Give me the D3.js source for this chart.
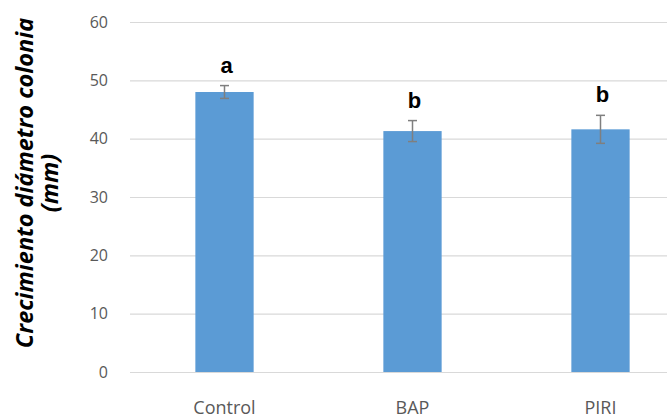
<!DOCTYPE html>
<html>
<head>
<meta charset="utf-8">
<script src="https://cdn.jsdelivr.net/npm/d3@7"></script>
<style>
  html, body { margin: 0; padding: 0; background: #fff; }
  svg { display: block; }
</style>
</head>
<body>
<div id="chart"></div>
<script>
// datos
const categories = ["Control", "BAP", "PIRI"];
const means = [48.0, 41.3, 41.6];
const errors = [1.1, 1.8, 2.4];
const letters = ["a", "b", "b"];
const yTicks = [0, 10, 20, 30, 40, 50, 60];

const W = 667, H = 418;

const svg = d3.select("#chart").append("svg")
    .attr("width", W)
    .attr("height", H);

const x = d3.scaleBand()
    .domain(categories)
    .range([130.5, 694.5])
    .paddingInner(0.69)
    .paddingOuter(0.345);

const y = d3.scaleLinear()
    .domain([0, 60])
    .range([372, 22]);

// líneas de cuadrícula
svg.append("g")
    .selectAll("line")
    .data(yTicks)
    .enter().append("line")
    .attr("x1", 130)
    .attr("x2", W)
    .attr("y1", d => y(d) + 0.5)
    .attr("y2", d => y(d) + 0.5)
    .attr("stroke", "#d9d9d9")
    .attr("stroke-width", 1.2);

// etiquetas eje Y
svg.append("g")
    .selectAll("text")
    .data(yTicks)
    .enter().append("text")
    .attr("x", 108)
    .attr("y", d => y(d))
    .attr("dy", "0.35em")
    .attr("text-anchor", "end")
    .attr("font-family", "Open Sans, sans-serif")
    .attr("font-size", 16)
    .attr("fill", "#595959")
    .text(d => d);

// barras
const data = categories.map((c, i) => ({ cat: c, mean: means[i], err: errors[i], letter: letters[i] }));

svg.append("g")
    .selectAll("rect")
    .data(data)
    .enter().append("rect")
    .attr("x", d => x(d.cat))
    .attr("y", d => y(d.mean))
    .attr("width", x.bandwidth())
    .attr("height", d => y(0) - y(d.mean))
    .attr("fill", "#5b9bd5");

// barras de error
const eb = svg.append("g")
    .attr("stroke", "#7f7f7f")
    .attr("stroke-width", 1.5)
    .selectAll("g")
    .data(data)
    .enter().append("g")
    .attr("transform", d => `translate(${x(d.cat) + x.bandwidth() / 2},0)`);

eb.append("line")
    .attr("y1", d => y(d.mean + d.err))
    .attr("y2", d => y(d.mean - d.err));
eb.append("line")
    .attr("x1", -4.5).attr("x2", 4.5)
    .attr("y1", d => y(d.mean + d.err))
    .attr("y2", d => y(d.mean + d.err));
eb.append("line")
    .attr("x1", -4.5).attr("x2", 4.5)
    .attr("y1", d => y(d.mean - d.err))
    .attr("y2", d => y(d.mean - d.err));

// letras de significancia
svg.append("g")
    .selectAll("text")
    .data(data)
    .enter().append("text")
    .attr("x", d => x(d.cat) + x.bandwidth() / 2 + 2)
    .attr("y", d => y(d.mean + d.err) - 13)
    .attr("text-anchor", "middle")
    .attr("font-family", "Liberation Sans, Arial, sans-serif")
    .attr("font-weight", "bold")
    .attr("font-size", 22)
    .attr("fill", "#000")
    .text(d => d.letter);

// etiquetas eje X
svg.append("g")
    .selectAll("text")
    .data(categories)
    .enter().append("text")
    .attr("x", d => x(d) + x.bandwidth() / 2)
    .attr("y", 414)
    .attr("text-anchor", "middle")
    .attr("font-family", "Open Sans, sans-serif")
    .attr("font-size", 18)
    .attr("fill", "#595959")
    .text(d => d);

// título eje Y
const yTitle = svg.append("text")
    .attr("transform", "translate(0,183) rotate(-90)")
    .attr("text-anchor", "middle")
    .attr("font-family", "Open Sans, sans-serif")
    .attr("font-weight", "bold")
    .attr("font-style", "italic")
    .attr("font-size", 23.5)
    .attr("fill", "#000");
yTitle.append("tspan").attr("x", 0).attr("y", 33).text("Crecimiento diámetro colonia");
yTitle.append("tspan").attr("x", 0).attr("y", 58).text("(mm)");
</script>
</body>
</html>
